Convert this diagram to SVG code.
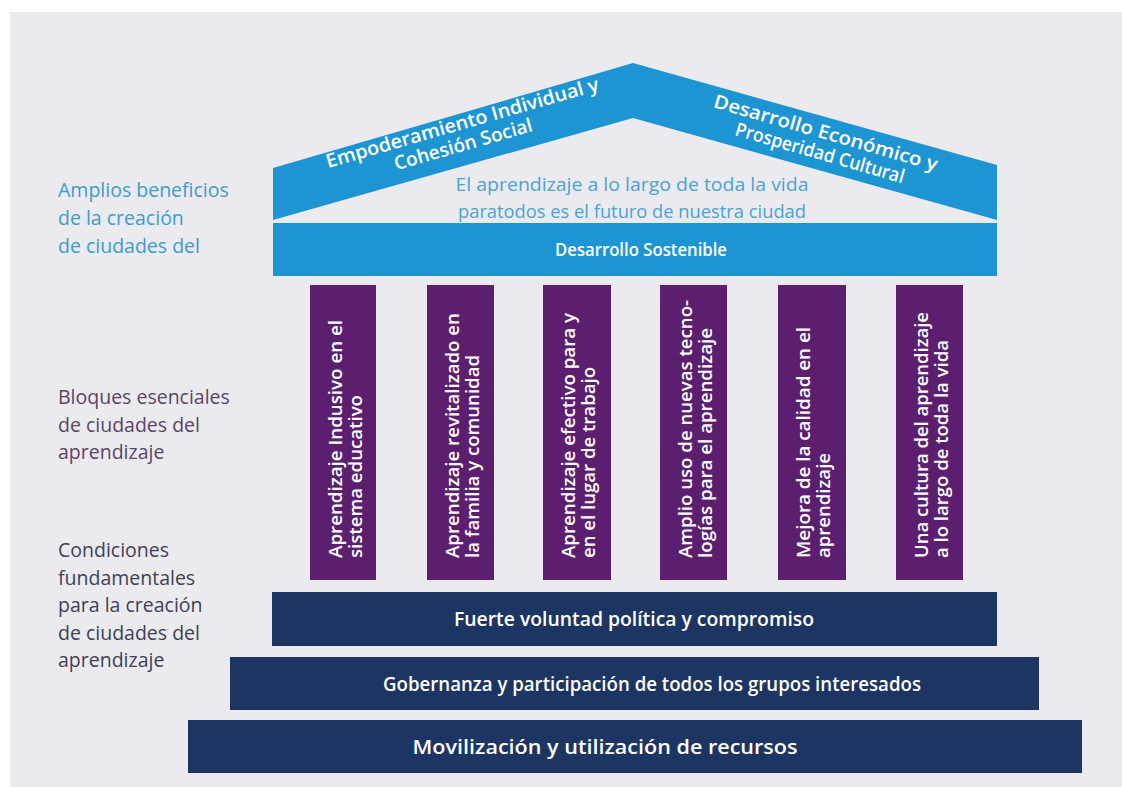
<svg xmlns="http://www.w3.org/2000/svg" width="1122" height="787" viewBox="0 0 1122 787">
<style>
.lbl{font-family:"Open Sans","Liberation Sans",sans-serif;font-size:19.5px}
.w{font-family:"Open Sans","Liberation Sans",sans-serif;fill:#ffffff;font-weight:600}
.pt{font-family:"Open Sans","Liberation Sans",sans-serif;fill:#ffffff;font-weight:600;font-size:18px}
.pillar{fill:#5c1f6f}
.bar{fill:#1c3562}
</style>
<rect x="0" y="0" width="1122" height="787" fill="#ffffff"/>
<rect x="10" y="12" width="1112" height="775" fill="#ebebef"/>

<g id="labels">
<text class="lbl" fill="#3a9ccf"><tspan x="58" y="197">Amplios beneficios</tspan><tspan x="58" y="225">de la creación</tspan><tspan x="58" y="253">de ciudades del</tspan></text>
<text class="lbl" fill="#5b4466"><tspan x="58" y="404">Bloques esenciales</tspan><tspan x="58" y="432">de ciudades del</tspan><tspan x="58" y="459">aprendizaje</tspan></text>
<text class="lbl" fill="#3d4157"><tspan x="58" y="557">Condiciones</tspan><tspan x="58" y="585">fundamentales</tspan><tspan x="58" y="612">para la creación</tspan><tspan x="58" y="640">de ciudades del</tspan><tspan x="58" y="667">aprendizaje</tspan></text>
</g>

<g id="roof">
<path d="M273,168 L633,63 L997,165 L997,220 L633,118 L273,220 Z" fill="#1e95d3"/>
<text class="w" font-size="19" text-anchor="middle" transform="translate(464,129) rotate(-16)"><tspan x="0" y="0" textLength="283" lengthAdjust="spacingAndGlyphs">Empoderamiento Individual y</tspan><tspan x="-5" y="21">Cohesión Social</tspan></text>
<text class="w" font-size="19" text-anchor="middle" transform="translate(824,139) rotate(16)"><tspan x="0" y="0" textLength="232" lengthAdjust="spacingAndGlyphs">Desarrollo Económico y</tspan><tspan x="0" y="21" textLength="175" lengthAdjust="spacingAndGlyphs">Prosperidad Cultural</tspan></text>
<text font-family="Open Sans, Liberation Sans, sans-serif" font-size="19" fill="#4aa2d6" text-anchor="middle"><tspan x="632" y="191" textLength="353" lengthAdjust="spacingAndGlyphs">El aprendizaje a lo largo de toda la vida</tspan><tspan x="632" y="218" textLength="348" lengthAdjust="spacingAndGlyphs">paratodos es el futuro de nuestra ciudad</tspan></text>
</g>

<g id="sostenible">
<rect x="273" y="223" width="724" height="53" fill="#1e95d3"/>
<text class="w" font-size="18.5" x="641" y="256" text-anchor="middle" textLength="172" lengthAdjust="spacingAndGlyphs">Desarrollo Sostenible</text>
</g>

<g id="pillar1">
<rect class="pillar" x="310" y="285" width="66" height="295"/>
<text class="pt" transform="translate(342,558) rotate(-90)"><tspan x="0" y="0" textLength="238" lengthAdjust="spacingAndGlyphs">Aprendizaje Indusivo en el</tspan><tspan x="0" y="20" textLength="163" lengthAdjust="spacingAndGlyphs">sistema educativo</tspan></text>
</g>
<g id="pillar2">
<rect class="pillar" x="427" y="285" width="67" height="295"/>
<text class="pt" transform="translate(459,558) rotate(-90)"><tspan x="0" y="0" textLength="245" lengthAdjust="spacingAndGlyphs">Aprendizaje revitalizado en</tspan><tspan x="0" y="20" textLength="203" lengthAdjust="spacingAndGlyphs">la familia y comunidad</tspan></text>
</g>
<g id="pillar3">
<rect class="pillar" x="543" y="285" width="68" height="295"/>
<text class="pt" transform="translate(575,558) rotate(-90)"><tspan x="0" y="0" textLength="245" lengthAdjust="spacingAndGlyphs">Aprendizaje efectivo para y</tspan><tspan x="0" y="20" textLength="191" lengthAdjust="spacingAndGlyphs">en el lugar de trabajo</tspan></text>
</g>
<g id="pillar4">
<rect class="pillar" x="660" y="285" width="67" height="295"/>
<text class="pt" transform="translate(692,558) rotate(-90)"><tspan x="0" y="0" textLength="258" lengthAdjust="spacingAndGlyphs">Amplio uso de nuevas tecno-</tspan><tspan x="0" y="20" textLength="230" lengthAdjust="spacingAndGlyphs">logías para el aprendizaje</tspan></text>
</g>
<g id="pillar5">
<rect class="pillar" x="778" y="285" width="68" height="295"/>
<text class="pt" transform="translate(810,558) rotate(-90)"><tspan x="0" y="0" textLength="231" lengthAdjust="spacingAndGlyphs">Mejora de la calidad en el</tspan><tspan x="0" y="20" textLength="105" lengthAdjust="spacingAndGlyphs">aprendizaje</tspan></text>
</g>
<g id="pillar6">
<rect class="pillar" x="896" y="285" width="67" height="295"/>
<text class="pt" transform="translate(928,558) rotate(-90)"><tspan x="0" y="0" textLength="246" lengthAdjust="spacingAndGlyphs">Una cultura del aprendizaje</tspan><tspan x="0" y="20" textLength="218" lengthAdjust="spacingAndGlyphs">a lo largo de toda la vida</tspan></text>
</g>

<g id="base1">
<rect class="bar" x="272" y="592" width="725" height="54"/>
<text class="w" font-size="19" x="634" y="626" text-anchor="middle" textLength="360" lengthAdjust="spacingAndGlyphs">Fuerte voluntad política y compromiso</text>
</g>
<g id="base2">
<rect class="bar" x="230" y="657" width="809" height="53"/>
<text class="w" font-size="19" x="652" y="691" text-anchor="middle" textLength="538" lengthAdjust="spacingAndGlyphs">Gobernanza y participación de todos los grupos interesados</text>
</g>
<g id="base3">
<rect class="bar" x="188" y="720" width="894" height="53"/>
<text class="w" font-size="19" x="605" y="754" text-anchor="middle" textLength="385" lengthAdjust="spacingAndGlyphs">Movilización y utilización de recursos</text>
</g>
<g id="connectors"/>
</svg>
